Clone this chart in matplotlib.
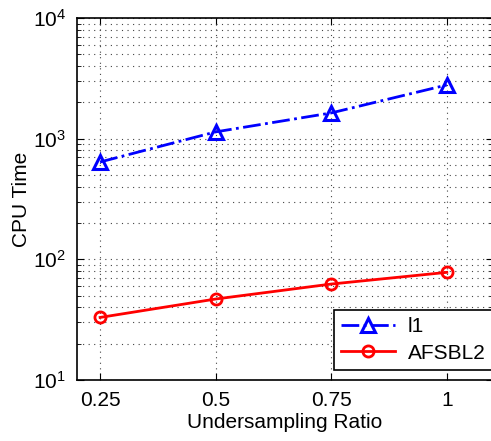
import matplotlib
matplotlib.use("Agg")
import matplotlib.pyplot as plt
from matplotlib.ticker import LogLocator, FixedLocator, NullFormatter, LogFormatterMathtext

plt.rcParams['font.family'] = ['Liberation Sans', 'DejaVu Sans']
plt.rcParams['mathtext.fontset'] = 'custom'
plt.rcParams['mathtext.rm'] = 'Liberation Sans'
plt.rcParams['mathtext.it'] = 'Liberation Sans'

ratios = [0.25, 0.5, 0.75, 1.0]
l1_time = [641, 1138, 1634, 2786]
afsbl2_time = [33, 46.9, 62.4, 78]
xtick_labels = ['0.25', '0.5', '0.75', '1']

fig = plt.figure(figsize=(4.91, 4.41), dpi=100)
ax = fig.add_axes([77/491, 61/441, 416/491, 362/441])

ax.plot(ratios, l1_time, color='#0000ff', linestyle='-.', linewidth=2,
        marker='^', markersize=10, markerfacecolor='none', markeredgewidth=2.2,
        label='l1')
ax.plot(ratios, afsbl2_time, color='#ff0000', linestyle='-', linewidth=2,
        marker='o', markersize=8, markerfacecolor='none', markeredgewidth=2,
        label='AFSBL2')

ax.set_yscale('log')
ax.set_ylim(10, 1e4)
ax.set_xlim(0.2, 1.1)
ax.xaxis.set_major_locator(FixedLocator(ratios))
ax.set_xticklabels(xtick_labels)
ax.yaxis.set_major_locator(LogLocator(base=10, numticks=10))
ax.yaxis.set_major_formatter(LogFormatterMathtext())
ax.yaxis.set_minor_locator(LogLocator(base=10, subs=range(2, 10), numticks=20))
ax.yaxis.set_minor_formatter(NullFormatter())

ax.grid(True, which='major', linestyle=(0, (1, 4)), color='#444444', linewidth=0.8)
ax.grid(True, which='minor', axis='y', linestyle=(0, (1, 4)), color='#444444', linewidth=0.8)

ax.tick_params(which='both', direction='in', top=True, right=True, labelsize=15, pad=8)
ax.tick_params(which='major', length=5)
ax.tick_params(which='minor', length=3)
for s in ax.spines.values():
    s.set_linewidth(1.2)

ax.set_xlabel('Undersampling Ratio', fontsize=15, labelpad=2)
ax.set_ylabel('CPU Time', fontsize=15, labelpad=1)

leg = ax.legend(loc='lower right', fontsize=15, frameon=True, fancybox=False,
                edgecolor='black', framealpha=1, handlelength=2.6,
                bbox_to_anchor=(493/491, 71/441), bbox_transform=fig.transFigure,
                borderaxespad=0, borderpad=0.35, labelspacing=0.35,
                handletextpad=0.6)
leg.get_frame().set_linewidth(1.2)

fig.savefig('out.png', dpi=100)
